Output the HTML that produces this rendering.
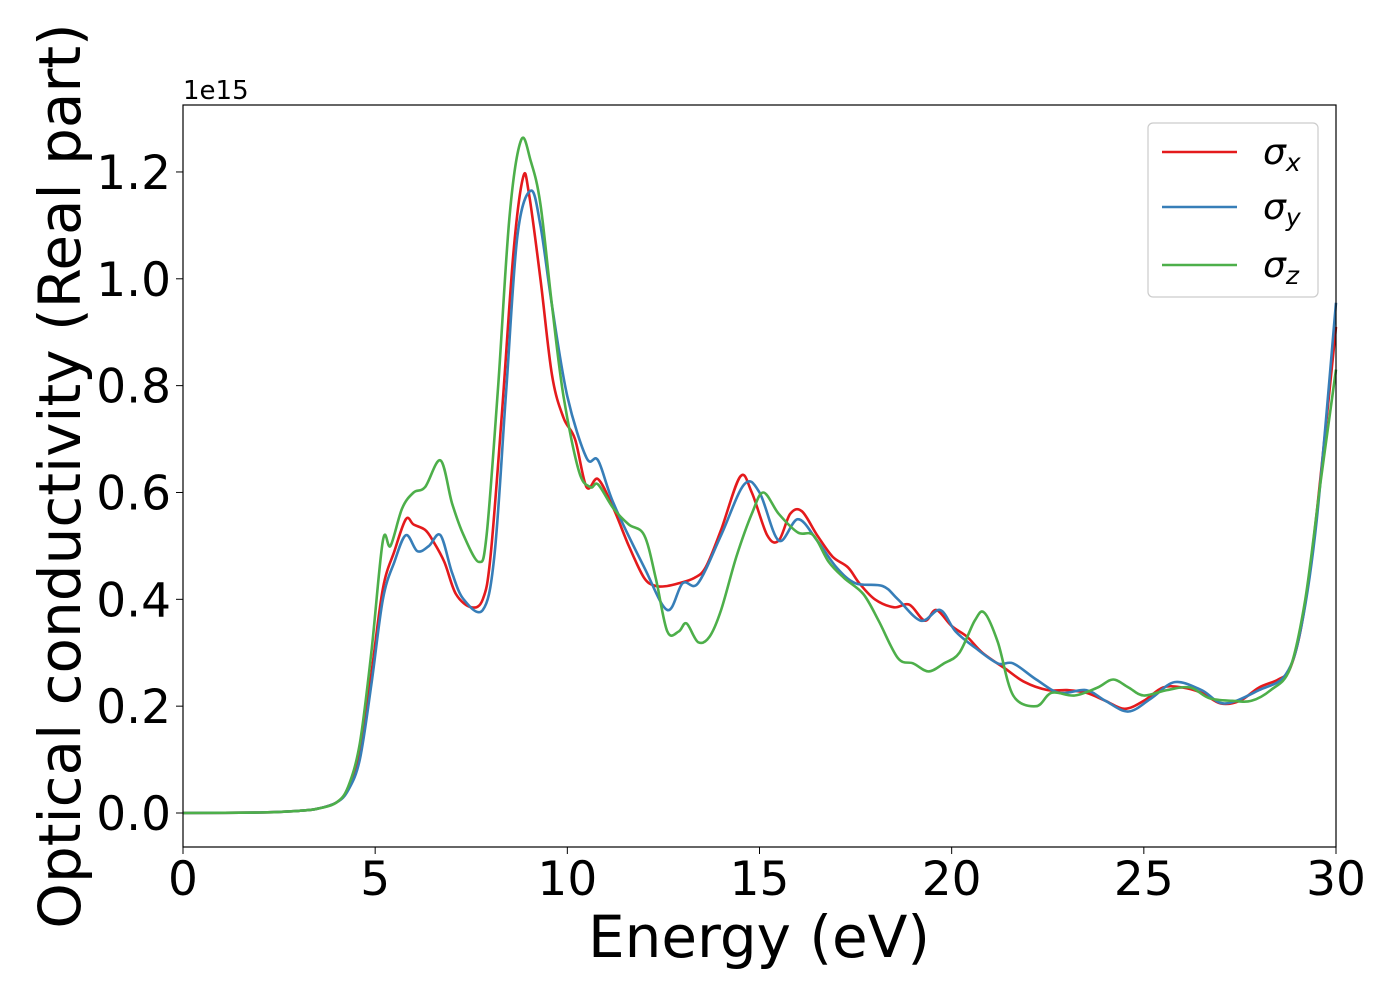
<!DOCTYPE html>
<html><head><meta charset="utf-8"><style>
body{margin:0;background:#fff;}
svg{display:block;font-family:"DejaVu Sans","Liberation Sans",sans-serif;}
</style></head><body>
<svg id="chart" width="1400" height="1000" viewBox="0 0 1400 1000">
<rect width="1400" height="1000" fill="#fff"/>
<g id="series"></g>
<rect x="183" y="105" width="1153" height="742" fill="none" stroke="#000" stroke-width="1.2"/>
<g id="xticks"></g>
<g id="yticks"></g>
<text x="183" y="99" font-size="26">1e15</text>
<text x="759" y="957" font-size="58" text-anchor="middle">Energy (eV)</text>
<text transform="translate(80,476) rotate(-90)" font-size="58" text-anchor="middle">Optical conductivity (Real part)</text>
<g>
<rect x="1148" y="123" width="170" height="174" rx="5" fill="#fff" fill-opacity="0.8" stroke="#ccc" stroke-width="1.2"/>
<line x1="1162" y1="152" x2="1237" y2="152" stroke="#e41a1c" stroke-width="2.5"/>
<text x="1263" y="164" font-size="36" font-style="italic">σ<tspan font-size="25" dy="7">x</tspan></text>
<line x1="1162" y1="207" x2="1237" y2="207" stroke="#377eb8" stroke-width="2.5"/>
<text x="1263" y="219" font-size="36" font-style="italic">σ<tspan font-size="25" dy="7">y</tspan></text>
<line x1="1162" y1="265" x2="1237" y2="265" stroke="#4daf4a" stroke-width="2.5"/>
<text x="1263" y="277" font-size="36" font-style="italic">σ<tspan font-size="25" dy="7">z</tspan></text>
</g>
</svg>
<script>
const xTicks=[0,5,10,15,20,25,30];
const yTicks=[0.0,0.2,0.4,0.6,0.8,1.0,1.2];
const yTickLabels=["0.0","0.2","0.4","0.6","0.8","1.0","1.2"];
const sxE=[0,2,3,3.5,4,4.3,4.6,4.9,5.2,5.5,5.8,6.0,6.3,6.5,6.8,7.1,7.5,7.8,8.0,8.3,8.6,8.85,9.0,9.3,9.6,9.9,10.2,10.5,10.8,11.2,11.6,12.0,12.3,12.6,12.9,13.3,13.6,14.0,14.5,14.8,15.2,15.5,15.8,16.1,16.5,16.9,17.3,17.6,18.0,18.5,18.9,19.3,19.6,20.0,20.4,20.8,21.4,21.9,22.5,23.0,23.5,24.0,24.5,25.0,25.5,26.0,26.5,27.0,27.5,28.0,28.5,28.8,29.1,29.4,29.7,30];
const sxV=[0,0.001,0.004,0.008,0.02,0.045,0.11,0.26,0.42,0.49,0.55,0.54,0.53,0.51,0.47,0.41,0.385,0.40,0.48,0.75,1.05,1.19,1.16,1.0,0.82,0.74,0.70,0.61,0.625,0.57,0.50,0.44,0.425,0.425,0.43,0.44,0.46,0.53,0.63,0.60,0.52,0.51,0.56,0.565,0.52,0.48,0.46,0.43,0.40,0.385,0.39,0.36,0.38,0.35,0.33,0.30,0.27,0.245,0.23,0.23,0.225,0.21,0.195,0.21,0.235,0.235,0.225,0.205,0.21,0.235,0.25,0.27,0.35,0.5,0.7,0.91];
const syE=[0,2,3,3.5,4,4.3,4.6,4.9,5.2,5.5,5.8,6.1,6.4,6.7,7.0,7.3,7.8,8.1,8.4,8.7,9.05,9.3,9.6,10.0,10.5,10.8,11.2,12.0,12.6,13.0,13.4,14.0,14.6,15.0,15.5,16.0,16.5,17.0,17.5,18.2,18.6,19.2,19.7,20.1,20.6,21.2,21.6,22.2,22.8,23.5,24.0,24.6,25.2,25.8,26.5,27.1,28.0,28.7,29.1,29.5,30];
const syV=[0,0.001,0.004,0.008,0.02,0.043,0.10,0.24,0.40,0.47,0.52,0.49,0.50,0.52,0.45,0.40,0.38,0.48,0.78,1.08,1.165,1.10,0.95,0.78,0.665,0.66,0.58,0.46,0.38,0.43,0.43,0.52,0.615,0.60,0.51,0.55,0.51,0.46,0.43,0.425,0.40,0.36,0.38,0.34,0.31,0.28,0.28,0.25,0.225,0.23,0.21,0.19,0.215,0.245,0.23,0.205,0.23,0.26,0.35,0.55,0.955];
const szE=[0,2,3,3.5,4,4.3,4.6,4.9,5.2,5.4,5.7,6.0,6.3,6.7,7.0,7.3,7.7,7.9,8.2,8.5,8.8,9.05,9.3,9.6,9.9,10.3,10.6,10.8,11.2,11.6,12.0,12.3,12.6,12.9,13.1,13.4,13.7,14.0,14.4,14.8,15.1,15.5,16.0,16.4,16.8,17.2,17.7,18.1,18.6,19.0,19.4,19.8,20.2,20.6,20.85,21.2,21.6,22.2,22.6,23.2,23.8,24.2,24.6,25.0,25.6,26.2,26.7,27.3,27.8,28.3,28.8,29.2,29.6,30];
const szV=[0,0.001,0.004,0.008,0.02,0.05,0.13,0.30,0.51,0.50,0.57,0.60,0.61,0.66,0.58,0.52,0.47,0.52,0.80,1.12,1.26,1.22,1.14,0.95,0.78,0.64,0.61,0.615,0.57,0.54,0.52,0.44,0.34,0.34,0.355,0.32,0.33,0.38,0.48,0.56,0.60,0.56,0.525,0.52,0.47,0.44,0.41,0.36,0.29,0.28,0.265,0.28,0.30,0.36,0.375,0.32,0.22,0.20,0.225,0.22,0.235,0.25,0.235,0.22,0.23,0.235,0.215,0.21,0.21,0.23,0.27,0.4,0.62,0.83];
const X0=183,X1=1336,Y0v=813,PXPER=534.2;
function xs(e){return X0+(X1-X0)*e/30;}
function ys(v){return Y0v-v*PXPER;}
const NS="http://www.w3.org/2000/svg";
function pathFor(E,V){
  const p=E.map((e,i)=>[xs(e),ys(V[i])]);
  let d="M"+p[0][0].toFixed(1)+","+p[0][1].toFixed(1);
  for(let i=0;i<p.length-1;i++){
    const a=p[Math.max(0,i-1)],b=p[i],c=p[i+1],n=p[Math.min(p.length-1,i+2)];
    const c1=[b[0]+(c[0]-a[0])/6,b[1]+(c[1]-a[1])/6];
    const c2=[c[0]-(n[0]-b[0])/6,c[1]-(n[1]-b[1])/6];
    d+=" C"+c1[0].toFixed(1)+","+c1[1].toFixed(1)+" "+c2[0].toFixed(1)+","+c2[1].toFixed(1)+" "+c[0].toFixed(1)+","+c[1].toFixed(1);
  }
  return d;
}
const g=document.getElementById("series");
[[sxE,sxV,"#e41a1c","sigma-x-line"],[syE,syV,"#377eb8","sigma-y-line"],[szE,szV,"#4daf4a","sigma-z-line"]].forEach(s=>{
  const el=document.createElementNS(NS,"path");
  el.setAttribute("d",pathFor(s[0],s[1]));
  el.setAttribute("fill","none");el.setAttribute("stroke",s[2]);el.setAttribute("stroke-width","2.6");
  
  
  g.appendChild(el);
});
const gx=document.getElementById("xticks");
xTicks.forEach(t=>{
  const l=document.createElementNS(NS,"line");
  l.setAttribute("x1",xs(t));l.setAttribute("x2",xs(t));l.setAttribute("y1",847);l.setAttribute("y2",854);l.setAttribute("stroke","#000");
  
  
  gx.appendChild(l);
  const tx=document.createElementNS(NS,"text");
  tx.setAttribute("x",xs(t));tx.setAttribute("y",895);tx.setAttribute("font-size","47");tx.setAttribute("text-anchor","middle");
  tx.textContent=String(t);
  
  
  gx.appendChild(tx);
});
const gy=document.getElementById("yticks");
yTicks.forEach((t,i)=>{
  const l=document.createElementNS(NS,"line");
  l.setAttribute("x1",176);l.setAttribute("x2",183);l.setAttribute("y1",ys(t));l.setAttribute("y2",ys(t));l.setAttribute("stroke","#000");
  
  
  gy.appendChild(l);
  const tx=document.createElementNS(NS,"text");
  tx.setAttribute("x",171);tx.setAttribute("y",ys(t)+17);tx.setAttribute("font-size","47");tx.setAttribute("text-anchor","end");
  tx.textContent=yTickLabels[i];
  
  
  gy.appendChild(tx);
});
</script>
</body></html>
